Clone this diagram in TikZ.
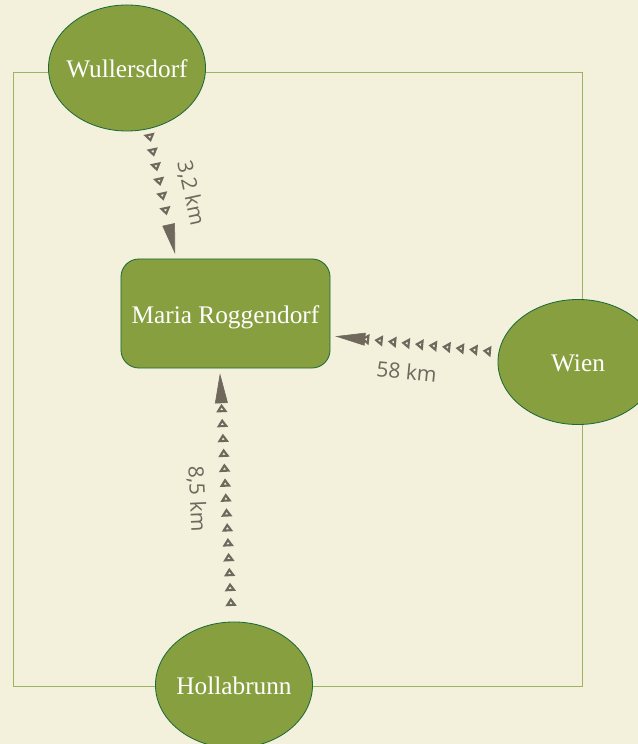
\documentclass[tikz,border=0pt]{standalone}
\usepackage{xcolor}
\usepackage{fontspec}
\setmainfont{Liberation Serif}
\newfontfamily\kmfont{Open Sans}
\usepackage{tikz}
\usetikzlibrary{shapes.geometric, arrows.meta, decorations.markings}

\definecolor{paper}{HTML}{F3F0DC}
\definecolor{leaf}{HTML}{879F3F}
\definecolor{leafline}{HTML}{1D6B3B}
\definecolor{frameline}{HTML}{9DB35F}
\definecolor{trailgray}{HTML}{6E685D}

\newcommand{\placename}[1]{\makebox[0pt]{\raisebox{-0.24cm}[0pt][0pt]{#1}}}

\begin{document}
\begin{tikzpicture}[x=0.025cm, y=0.025cm,
    town/.style={ellipse, draw=leafline, fill=leaf, line width=0.6pt, minimum width=3.925cm, minimum height=3.15cm, inner sep=0pt, text=white, font=\fontsize{18}{22}\selectfont},
    hub/.style={rectangle, rounded corners=0.45cm, draw=leafline, fill=leaf, line width=0.6pt, minimum width=5.225cm, minimum height=2.725cm, inner sep=0pt, text=white, font=\fontsize{18}{22}\selectfont},
    trail/.style 2 args={color=trailgray, decoration={markings,
        mark=between positions #1 and -0.75cm step #2 with {\arrow{Triangle[open, length=0.21cm, width=0.27cm, line width=1.5pt]}},
        mark=at position -0.12cm with {\arrow{Triangle[length=0.75cm, width=0.32cm]}}},
        postaction={decorate}},
    km/.style={sloped, text=trailgray, font=\kmfont\fontsize{15}{18}\selectfont}]
    \clip (0,0) rectangle (638,744);
    \fill[paper] (0,0) rectangle (638,744);
    \draw[frameline, line width=0.7pt] (13,58) rectangle (582,672);

    \node[hub] (mr) at (225.5,430.5) {\placename{Maria Roggendorf}};
    \node[town] (wul) at (127,676) {\placename{Wullersdorf}};
    \node[town, minimum width=4cm, minimum height=3.125cm] (wien) at (578,382) {\placename{Wien}};
    \node[town] (hol) at (234,59) {\placename{Hollabrunn}};

    \path[trail={0.33cm}{0.375cm}] (wul.-71) -- (mr.132)
        node[km, pos=0.54, above, inner sep=0.46cm] (wulkm) {3,2 km};
    \path[trail={0.4cm}{0.34cm}] (wien.173) -- (mr.-12)
        node[km, pos=0.53, below, inner sep=0.5cm] (wienkm) {58 km};
    \path[trail={0.6cm}{0.373cm}] (hol.92) -- (mr.-96)
        node[km, pos=0.49, below, inner sep=0.49cm] (holkm) {8,5 km};
\end{tikzpicture}
\end{document}
